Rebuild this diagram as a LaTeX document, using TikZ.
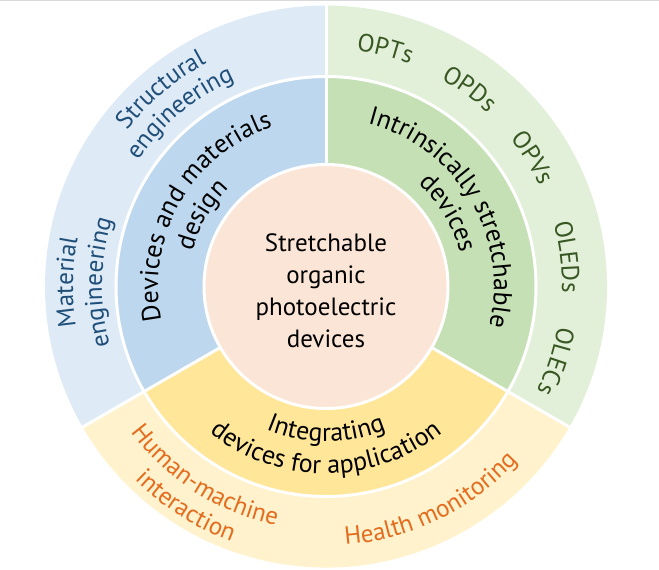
\documentclass[tikz,border=0pt]{standalone}
\usepackage{fontspec}
\setmainfont{PT Sans}
\usetikzlibrary{decorations.text}
\definecolor{oblue}{HTML}{DEEBF7}
\definecolor{iblue}{HTML}{BDD7EE}
\definecolor{ogreen}{HTML}{E2F0D9}
\definecolor{igreen}{HTML}{C5E0B4}
\definecolor{oyellow}{HTML}{FFF2CC}
\definecolor{iyellow}{HTML}{FFE699}
\definecolor{peach}{HTML}{FBE5D6}
\definecolor{tblue}{HTML}{1F4E79}
\definecolor{tgreen}{HTML}{385723}
\definecolor{torange}{HTML}{E46C1E}
% clockwise text (tops outward): colour, size, text, centre angle, radius
\newcommand{\cwlabel}[5]{%
  \pgfmathsetmacro{\myA}{#4+80}\pgfmathsetmacro{\myB}{#4-80}%
  \path[decorate,decoration={text along path,text align=center,
    text={|\fontsize{#2bp}{#2bp}\selectfont\color{#1}|#3}}]
    (\myA:#5) arc[start angle=\myA,end angle=\myB,radius=#5];}
% counter-clockwise text (tops inward)
\newcommand{\ccwlabel}[5]{%
  \pgfmathsetmacro{\myA}{#4-80}\pgfmathsetmacro{\myB}{#4+80}%
  \path[decorate,decoration={text along path,text align=center,
    text={|\fontsize{#2bp}{#2bp}\selectfont\color{#1}|#3}}]
    (\myA:#5) arc[start angle=\myA,end angle=\myB,radius=#5];}
\tikzset{sep/.style={white,line width=3bp}}
\begin{document}
\begin{tikzpicture}[x=1bp,y=1bp]
\useasboundingbox (-326,-283.5) rectangle (333,286.5);
\draw[black!15,line width=1.5bp] (-326,285.8) -- (333,285.8);
% outer ring
\fill[oblue] (0,0) -- (90:281) arc[start angle=90,end angle=210,radius=281] -- cycle;
\fill[ogreen] (0,0) -- (-30:281) arc[start angle=-30,end angle=90,radius=281] -- cycle;
\fill[oyellow] (0,0) -- (210:281) arc[start angle=210,end angle=330,radius=281] -- cycle;
% inner ring
\fill[iblue] (0,0) -- (90:210) arc[start angle=90,end angle=210,radius=210] -- cycle;
\fill[igreen] (0,0) -- (-30:210) arc[start angle=-30,end angle=90,radius=210] -- cycle;
\fill[iyellow] (0,0) -- (210:210) arc[start angle=210,end angle=330,radius=210] -- cycle;
\draw[sep] (0,0) circle[radius=210];
\foreach \a in {90,210,330} \draw[sep] (0,0) -- (\a:283);
% centre
\fill[peach] (0,0) circle[radius=121];
\draw[sep] (0,0) circle[radius=122];
\node[align=center,inner sep=0pt,font=\fontsize{25bp}{32bp}\selectfont] (core) at (0,-4.5)
  {Stretchable\\organic\\photoelectric\\devices};
% inner ring labels
\cwlabel{black}{26}{Devices and materials}{150}{168}
\cwlabel{black}{26}{design}{150}{138}
\cwlabel{black}{26}{Intrinsically stretchable}{31}{168}
\cwlabel{black}{26}{devices}{31}{138}
\ccwlabel{black}{26}{Integrating}{270}{155}
\ccwlabel{black}{26}{devices for application}{270}{187}
% outer ring labels
\cwlabel{tblue}{25}{Structural}{130}{253}
\cwlabel{tblue}{25}{engineering}{130}{226}
\cwlabel{tblue}{25}{Material}{179}{253}
\cwlabel{tblue}{25}{engineering}{179}{224}
\cwlabel{tgreen}{25}{OPTs}{76}{238}
\cwlabel{tgreen}{25}{OPDs}{54}{237}
\cwlabel{tgreen}{25}{OPVs}{32}{236}
\cwlabel{tgreen}{25}{OLEDs}{7}{236}
\cwlabel{tgreen}{25}{OLECs}{-18}{235}
\ccwlabel{torange}{25}{Human-machine}{237.5}{244}
\ccwlabel{torange}{25}{interaction}{237.5}{272}
\ccwlabel{torange}{25}{Health monitoring}{296}{259}
\end{tikzpicture}
\end{document}
